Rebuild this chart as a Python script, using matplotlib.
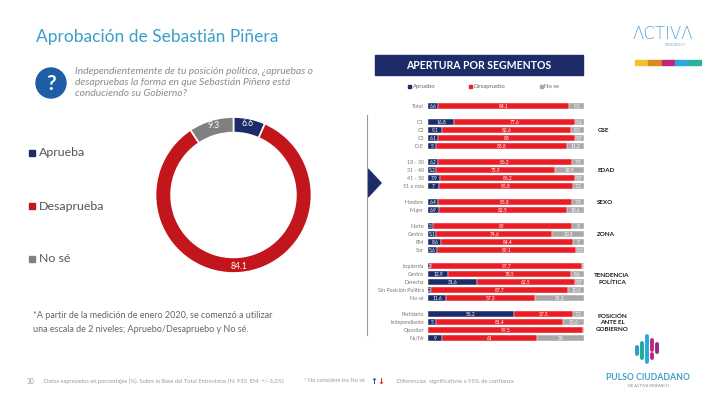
import matplotlib
matplotlib.use("Agg")
import matplotlib.pyplot as plt
from matplotlib.patches import Circle, Rectangle, Polygon
import numpy as np

plt.rcParams['font.family'] = ['Lato', 'DejaVu Sans']

W, H = 702, 393

# ---------------- data ----------------
donut_labels = ["Aprueba", "Desaprueba", "No sé"]
donut_values = [6.6, 84.1, 9.3]

categories = ["Total", "C1", "C2", "C3", "D-E",
              "18 - 30", "31 - 40", "41 - 50", "51 o más",
              "Hombre", "Mujer",
              "Norte", "Centro", "RM", "Sur",
              "Izquierda", "Centro", "Derecha", "Sin Posición Política", "No sé",
              "Partidario", "Independiente", "Opositor", "Ns/Nr"]
group_sizes = [1, 4, 4, 2, 4, 5, 4]
group_names = ["", "GSE", "EDAD", "SEXO", "ZONA", "TENDENCIA\nPOLÍTICA",
               "POSICIÓN\nANTE EL\nGOBIERNO"]
apruebo = [6.6, 16.8, 9.1, 6.1, 5.0, 6.2, 5.2, 7.9, 7.0, 6.4, 6.9, 3.0, 5.1,
           8.6, 5.6, 1.3, 12.9, 31.6, 2.0, 11.6, 55.2, 5.0, 0.0, 9.0]
desapruebo = [84.1, 77.6, 82.6, 88.0, 83.8, 86.3, 75.9, 86.2, 85.8, 85.8, 82.5,
              89.0, 74.6, 84.4, 89.1, 97.7, 78.5, 62.5, 87.7, 57.3, 37.5, 81.4,
              99.5, 61.0]
nose = [9.3, 5.6, 8.3, 5.9, 11.2, 7.5, 18.9, 5.9, 7.2, 7.8, 10.6, 8.0, 20.3,
        7.0, 5.3, 1.0, 8.6, 5.9, 10.3, 31.1, 7.3, 13.6, 0.5, 30.0]
bar_legend = ["Apruebo", "Desapruebo", "No se"]

NAVY = "#1d2c68"
RED_D = "#c3161c"
RED_B = "#ec1c24"
GRAY_D = "#808080"
GRAY_B = "#a8a8a8"

fig = plt.figure(figsize=(W / 100, H / 100), dpi=100)
fig.patch.set_facecolor("white")

def fbox(x0, y0, x1, y1):
    return [x0 / W, 1 - y1 / H, (x1 - x0) / W, (y1 - y0) / H]

# background overlay axes in pixel coordinates
bg = fig.add_axes([0, 0, 1, 1], zorder=0)
bg.set_xlim(0, W)
bg.set_ylim(H, 0)
bg.axis("off")

# title
bg.text(36, 37, "Aprobación de Sebastián Piñera", fontsize=12.5, color="#3a9fca",
        va="center", ha="left")

# question icon
bg.add_patch(Circle((51, 83), 15, color="#1f5da6"))
bg.text(51, 84, "?", color="white", fontsize=15, fontweight="bold",
        ha="center", va="center")
qlines = ["Independientemente de tu posición política, ¿apruebas o",
          "desapruebas la forma en que Sebastián Piñera está",
          "conduciendo su Gobierno?"]
for i, t in enumerate(qlines):
    bg.text(75, 72 + i * 10.6, t, fontsize=7.4, style="italic", color="#8c8c8c",
            va="center", ha="left")

# left legend
leg_cols = [NAVY, RED_D, GRAY_D]
for i, (lab, c) in enumerate(zip(donut_labels, leg_cols)):
    y = 153 + i * 53
    bg.add_patch(Rectangle((29, y - 3), 5.5, 5.5, color=c))
    bg.text(39, y, lab, fontsize=8.9, color="#555555", va="center", ha="left")

# footnote
bg.text(33, 316, "*A partir de la medición de enero 2020, se comenzó a utilizar",
        fontsize=6.5, color="#666666", va="center")
bg.text(33, 329, "una escala de 2 niveles; Apruebo/Desapruebo y No sé.",
        fontsize=6.5, color="#666666", va="center")

# footer
bg.text(27, 381, "30", fontsize=4.8, color="#9a9a9a", va="center")
bg.text(44, 381, "Datos expresados en porcentajes (%). Sobre la Base del Total Entrevistas (N: 950  EM: +/-3,2%)",
        fontsize=4.15, color="#9a9a9a", va="center")
bg.text(304, 381, "* No considera los No sé", fontsize=4.1, color="#9a9a9a", va="center")
bg.text(374, 381, "↑", fontsize=6, color="#2b4aa0", va="center", ha="center",
        fontweight="bold", family="DejaVu Sans")
bg.text(381, 381, "↓", fontsize=6, color=RED_B, va="center", ha="center",
        fontweight="bold", family="DejaVu Sans")
bg.text(397, 381, "Diferencias  significativas a 95% de confianza", fontsize=4.25,
        color="#9a9a9a", va="center")

# separator line and arrow
bg.plot([367, 367], [115, 335], color="#9a9a9a", lw=0.8)
bg.add_patch(Polygon([[368, 169], [381, 183], [368, 197]], closed=True, color=NAVY))

# header box
bg.add_patch(Rectangle((375, 55), 208, 20, color=NAVY))
bg.text(479, 65.5, "APERTURA POR SEGMENTOS", color="white", fontsize=7.6,
        fontweight="bold", ha="center", va="center")

# bar legend
bar_cols = [NAVY, RED_B, GRAY_B]
for lab, c, x in zip(bar_legend, bar_cols, [408, 469, 540]):
    bg.add_patch(Rectangle((x, 85), 3.2, 3.2, color=c))
    bg.text(x + 4.5, 86.8, lab, fontsize=4.3, color="#666666", va="center")

# ACTIVA logo
bg.text(663, 34, "ΛCTIVΛ", fontsize=12, color="#5aaad8", ha="center", va="center",
        family="DejaVu Sans", fontweight="light")
bg.text(675, 45, "RESEARCH", fontsize=3, color="#7ab8dc", ha="center", va="center")
logo_cols = ["#f2c12e", "#dc8a1e", "#c0267f", "#2aa8e0", "#2bb39a"]
for i, c in enumerate(logo_cols):
    bg.add_patch(Rectangle((635 + i * 13.4, 60), 13.4, 5, color=c))

# Pulso Ciudadano logo
pulse = [(637, 347, 354, "#2a9ad4"), (642, 343, 358, "#22a79a"),
         (647, 336, 362, "#2aa8e0"), (652, 340, 350, "#c0267f"),
         (652, 354, 358, "#c0267f"), (657, 344, 352, "#8e2a8a")]
for x, y0, y1, c in pulse:
    bg.plot([x, x], [y0, y1], color=c, lw=2.8, solid_capstyle="round")
bg.text(648, 377, "PULSO CIUDADANO", fontsize=6.2, color="#3f9fc6",
        ha="center", va="center", fontweight="bold")
bg.text(648, 386, "DE ACTIVA RESEARCH", fontsize=2.8, color="#8a8a8a",
        ha="center", va="center")

# ---------------- donut ----------------
cx, cy, R = 233.5, 195, 78
dax = fig.add_axes(fbox(cx - R, cy - R, cx + R, cy + R), zorder=2)
wedges, _ = dax.pie(donut_values, colors=[NAVY, RED_D, GRAY_D], startangle=90,
                    counterclock=False, radius=1,
                    wedgeprops=dict(width=0.2, edgecolor="white", linewidth=1.2))
dax.set_xlim(-1, 1)
dax.set_ylim(-1, 1)
dax.set_aspect("equal")
dax.axis("off")
for w, v in zip(wedges, donut_values):
    ang = np.deg2rad((w.theta1 + w.theta2) / 2)
    r = 0.9
    dax.text(r * np.cos(ang), r * np.sin(ang) - (0.02 if v > 50 else -0.03),
             f"{v:g}", color="white", fontsize=6.2, ha="center", va="center")

# ---------------- stacked bars ----------------
positions = []
group_mid = []
pos = 0
for gs in group_sizes:
    rows = list(range(pos, pos + gs))
    positions.extend(rows)
    group_mid.append((rows[0] + rows[-1]) / 2)
    pos += gs + 1
nrows = positions[-1] + 1

bax = fig.add_axes(fbox(428, 102, 584, 102 + nrows * 8), zorder=2)
ap = np.array(apruebo)
de = np.array(desapruebo)
ns = np.array(nose)
posa = np.array(positions)
bh = 0.78
bax.barh(posa, ap, height=bh, color=NAVY, edgecolor="white", linewidth=0.3)
bax.barh(posa, de, left=ap, height=bh, color=RED_B, edgecolor="white", linewidth=0.3)
bax.barh(posa, ns, left=ap + de, height=bh, color=GRAY_B, edgecolor="white", linewidth=0.3)
bax.set_xlim(0, 100)
bax.set_ylim(nrows - 0.5, -0.5)
bax.set_yticks(positions)
bax.set_yticklabels(categories, fontsize=3.8, color="#777777")
bax.tick_params(axis="y", length=0, pad=3)
bax.set_xticks([])
for s in bax.spines.values():
    s.set_visible(False)

for y, a, d, n in zip(positions, ap, de, ns):
    for left, v in ((0, a), (a, d), (a + d, n)):
        if v >= 1:
            bax.text(left + v / 2, y, f"{v:g}", color="white", fontsize=3.5,
                     ha="center", va="center")

for name, mid in zip(group_names, group_mid):
    if name:
        multi = "\n" in name
        bax.text(118 if multi else 108.5, mid - 0.4, name, fontsize=4.5,
                 fontweight="bold", color="#1a1a1a",
                 ha="center" if multi else "left", va="center", clip_on=False,
                 linespacing=1.35, multialignment="center")

fig.savefig("out.png", dpi=100, facecolor="white")
